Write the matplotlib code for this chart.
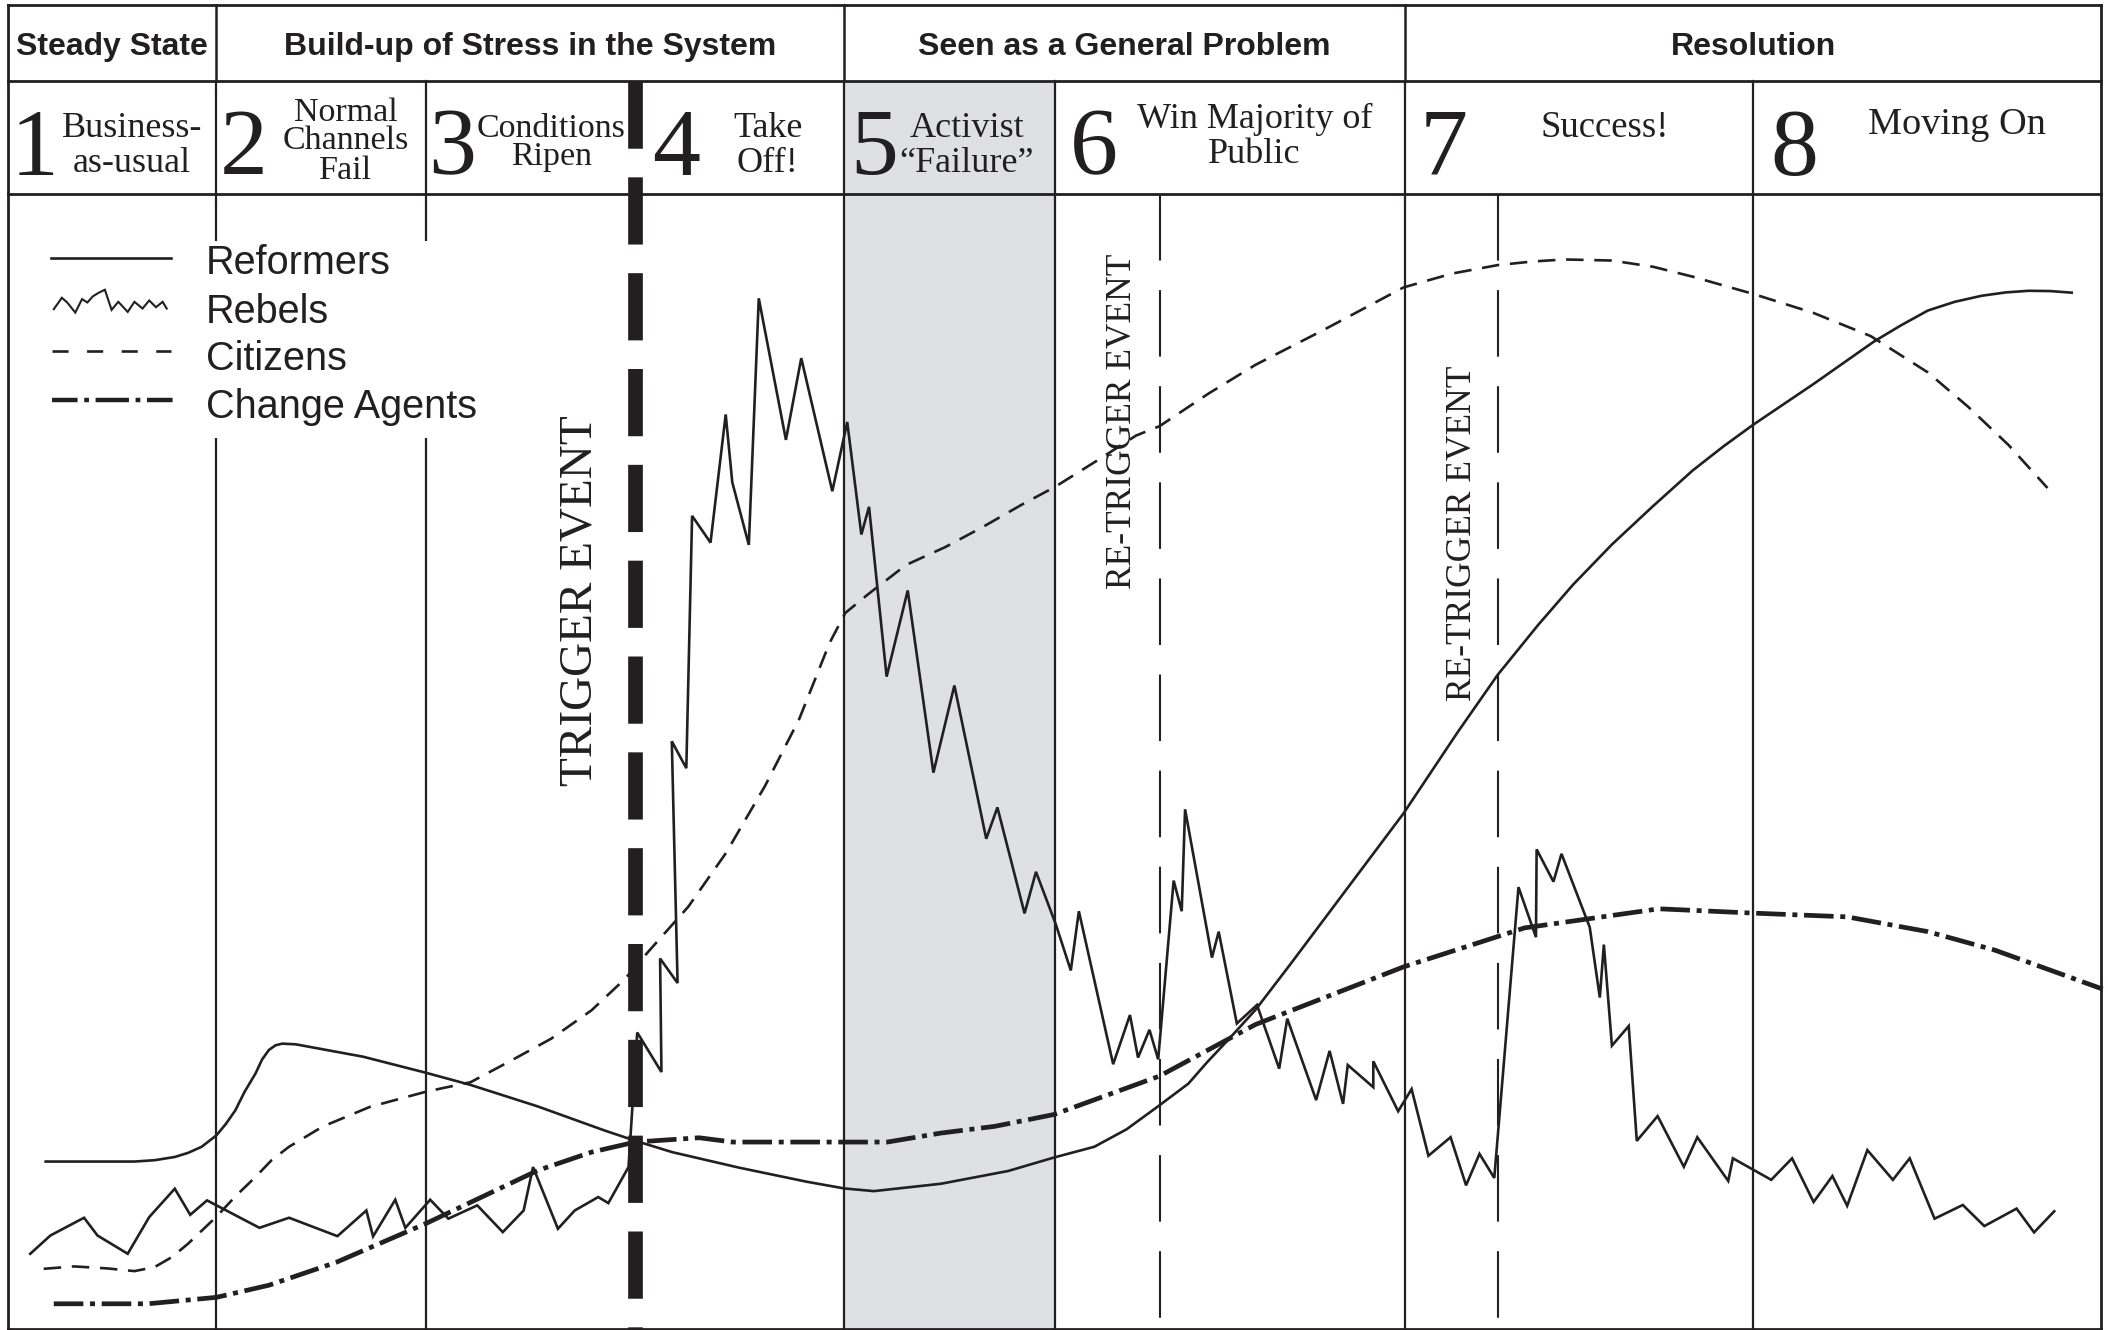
import matplotlib
matplotlib.use('Agg')
import matplotlib.pyplot as plt
from matplotlib.patches import Rectangle

# Stages of a social movement (Moyer style "MAP" chart)
INK = '#231f20'
GREY = '#dfe0e2'
SERIF = 'Liberation Serif'
SANS = 'Liberation Sans'

plt.rcParams['lines.scale_dashes'] = False

# ---- header --------------------------------------------------------------
groups = ['Steady State', 'Build-up of Stress in the System',
          'Seen as a General Problem', 'Resolution']
group_edges = [6, 161, 628, 1045, 1563]

stage_nums = ['1', '2', '3', '4', '5', '6', '7', '8']
stage_labels = [['Business-', 'as-usual'],
                ['Normal', 'Channels', 'Fail'],
                ['Conditions', 'Ripen'],
                ['Take', 'Off!'],
                ['Activist', '\u201cFailure\u201d'],
                ['Win Majority of', 'Public'],
                ['Success!'],
                ['Moving On']]
stage_edges = [6, 161, 317, 472, 628, 785, 1045, 1304, 1563]

# layout of header labels (x of digit, x of label, baselines, size)
num_x = [26, 181, 336, 503, 650, 814, 1074, 1335]
lab_x = [98, 257, 410, 571, 719, 933, 1194, 1456]
lab_base = [[102, 128], [90, 111, 133], [102, 123], [102, 128],
            [102, 128], [95, 121], [102], [100]]
lab_size = [26, 24.5, 24.5, 26, 26, 26, 26.5, 27.5]

# ---- series (x = time, y = level, picture scale, 0 at top) --------------
ref_x = [34, 100, 115, 130, 140, 150, 161, 168, 175, 182, 190, 195, 200, 205,
         210, 220, 270, 317, 350, 400, 450, 473, 500, 550, 600, 628, 650, 700,
         750, 784, 814, 838, 862, 884, 898, 914, 934, 960, 984, 1014, 1044,
         1084, 1114, 1144, 1170, 1199, 1229, 1259, 1282, 1304, 1349, 1394, 1414,
         1434, 1454, 1474, 1492, 1509, 1525, 1541]
ref_y = [864, 864, 863, 860.6, 857.5, 853, 844.5, 836, 826, 812, 798.6, 788,
         781, 777.5, 776.3, 776.8, 786, 798, 807, 823, 841, 848.7, 857, 868.6,
         879, 884, 886, 880.5, 871, 861, 853, 840, 822.5, 806, 790, 773, 751,
         717, 685, 645, 605, 545, 502, 465, 435, 405, 377, 350, 332, 316, 285.6,
         254, 242, 231, 224.5, 220, 217.5, 216.3, 216.5, 217.7]

reb_x = [22.5, 37.5, 62.5, 72.5, 95, 111, 130, 141.5, 154, 193, 215, 251, 272.5,
         277.5, 294, 301.5, 320, 333.5, 355, 374, 389.5, 396.5, 415, 427.5, 445,
         452.5, 467.5, 474, 492, 491, 504, 499.7, 510.5, 514.8, 528.5, 539.8,
         544.7, 557, 564.4, 584.6, 596, 619.1, 630.2, 640.7, 646.4, 659.5, 675.2,
         694.3, 709.9, 733.6, 741.9, 762.1, 770.6, 785.4, 796.5, 802.5, 828,
         840.5, 846.5, 855, 861.5, 873, 879, 881.5, 901.5, 906.5, 920, 935,
         951.5, 957.5, 979, 989, 999, 1002.5, 1021.5, 1021.5, 1040, 1050, 1062.5,
         1079, 1090.5, 1100.5, 1111.5, 1129.5, 1142.5, 1143, 1155.5, 1161.5,
         1182.5, 1190, 1193, 1199, 1211.5, 1217.5, 1233, 1252.5, 1262.5, 1285.5,
         1289, 1317.5, 1333, 1349, 1363, 1374, 1389, 1408, 1420.5, 1439, 1460,
         1476, 1500, 1513, 1528]
reb_y = [932.6, 919, 905.8, 919, 932.6, 905.3, 884.2, 903.6, 892.9, 913.3,
         905.8, 919.5, 900.4, 919.7, 892.4, 913.3, 892.4, 906.5, 896.6, 916.5,
         900.4, 868.1, 914, 900.4, 890.4, 894.9, 868.1, 768, 797.4, 713, 731.2,
         551.4, 571.4, 383.7, 403.6, 308.3, 358.8, 405.3, 221.9, 327.2, 266.4,
         365.4, 313.9, 397.6, 377, 503.3, 439.2, 574.7, 509.9, 623.9, 600.6,
         679.4, 648.5, 687.7, 721.9, 677.8, 791.6, 755, 786.7, 766, 788, 655,
         677.8, 602, 712.3, 693, 761.3, 747.5, 794.9, 757.7, 818.3, 781.7, 821.1,
         792.2, 808.7, 789.4, 826.6, 810.1, 859.7, 845.9, 881.7, 858.3, 876.2,
         659.9, 697.1, 631.8, 655.8, 635.1, 689.7, 742, 702.6, 777.8, 763.2,
         848.6, 830.2, 867.9, 845.9, 878.4, 861.6, 877.6, 861.6, 894.1, 874.8,
         896.9, 855.5, 877.6, 861.6, 906.5, 896.3, 912, 899, 916.7, 901]

cit_x = [32.5, 55, 80, 100, 115, 128, 140, 161, 175, 190, 202, 215, 240, 275,
         317, 350, 380, 410, 440, 465, 483, 512, 540, 569, 594.5, 617, 628.7,
         646, 674, 703, 731, 760, 785, 817, 845, 862.5, 899, 934, 984, 1044,
         1080, 1114, 1140, 1164, 1199, 1230, 1259, 1304, 1349, 1391.5, 1434,
         1464, 1494, 1523]
cit_y = [943.8, 942, 943.5, 945.5, 942.5, 935, 925, 905, 890, 875.5, 863, 853,
         838, 823.4, 812, 805, 789, 772.6, 751.5, 728, 707, 674.4, 634.5, 584.7,
         534.8, 478.4, 456, 441.8, 420.2, 407, 392, 375.4, 362, 342, 324, 317,
         292.7, 271.3, 245.7, 213.8, 203.5, 197.2, 194.5, 193, 193.8, 198.5,
         205.8, 218.6, 232.8, 250, 277, 302.6, 331, 363]

agt_x = [40, 110, 161, 200, 250, 280, 317, 360, 400, 440, 472.5, 520, 545, 660,
         700, 740, 784, 862.5, 934, 1044, 1134, 1234, 1304, 1374, 1434, 1484,
         1564]
agt_y = [969.8, 969.8, 965, 956, 939, 926, 910, 889.6, 870.6, 857, 849.5, 846.3,
         849.5, 849.5, 842.8, 837.8, 829, 800.4, 762, 719.2, 690.2, 676, 679.2,
         682, 693, 706.8, 735.7]

trigger_x = 472.5
retrigger_x = [862.5, 1114.5]

legend_names = ['Reformers', 'Rebels', 'Citizens', 'Change Agents']
# little zig-zag glyph used for the Rebels entry
zig_x = [40, 46, 50, 56, 61, 65, 69, 73, 78, 83, 88, 95, 100, 106, 111, 116, 121, 124]
zig_y = [230, 221.5, 225, 232.5, 222.5, 225, 220.5, 218, 215.5, 230.5, 224.5,
         232, 224.5, 229.5, 223.5, 228.5, 224.5, 229.5]

# ---- figure ----------------------------------------------------------------
fig = plt.figure(figsize=(21.08, 13.30), dpi=100)
ax = fig.add_axes([0, 0, 1, 1])
ax.set_xlim(0, 1568)
ax.set_ylim(989.3, 0)
ax.axis('off')

TOP, ROW1, ROW2, BOT = 3.5, 60, 144, 988.5

# grey "activist failure" column
ax.add_patch(Rectangle((stage_edges[4], ROW1), stage_edges[5] - stage_edges[4],
                       BOT - ROW1, facecolor=GREY, edgecolor='none', zorder=0))

# frame
for yy in [TOP, ROW1, ROW2, BOT]:
    ax.plot([group_edges[0], group_edges[-1]], [yy, yy], color=INK, lw=2, zorder=2,
            solid_capstyle='projecting')
for xx in [group_edges[0], group_edges[-1]]:
    ax.plot([xx, xx], [TOP, BOT], color=INK, lw=2, zorder=2, solid_capstyle='projecting')
for xx in group_edges[1:-1]:
    ax.plot([xx, xx], [TOP, ROW1], color=INK, lw=1.8, zorder=2)
for i, xx in enumerate(stage_edges[1:-1]):
    if i == 2:
        continue  # that one is the trigger line
    ax.plot([xx, xx], [ROW1, BOT], color=INK, lw=1.6, zorder=2)

# group titles
for i, g in enumerate(groups):
    ax.text((group_edges[i] + group_edges[i + 1]) / 2, 41, g, ha='center',
            va='baseline', fontsize=23, fontweight='bold', family=SANS, color=INK)

# stage numbers and names
for i, n in enumerate(stage_nums):
    ax.text(num_x[i], 130, n, ha='center', va='baseline', fontsize=69,
            family=SERIF, color=INK)
    for line, yb in zip(stage_labels[i], lab_base[i]):
        ax.text(lab_x[i], yb, line, ha='center', va='baseline',
                fontsize=lab_size[i], family=SERIF, color=INK)

# trigger and re-trigger events
ax.plot([trigger_x, trigger_x], [60.5, BOT], color=INK, lw=10.6,
        linestyle=(0, (48.4, 20.6)), zorder=6)
for xx in retrigger_x:
    ax.plot([xx, xx], [ROW2, BOT], color=INK, lw=1.5,
            linestyle=(0, (47.9, 21.3)), zorder=2)
ax.text(431.5, 446.5, 'TRIGGER EVENT', rotation=90, ha='center', va='center',
        fontsize=34, family=SERIF, color=INK, zorder=5)
ax.text(835, 313.7, 'RE-TRIGGER EVENT', rotation=90, ha='center', va='center',
        fontsize=25.5, family=SERIF, color=INK, zorder=3)
ax.text(1088, 397, 'RE-TRIGGER EVENT', rotation=90, ha='center', va='center',
        fontsize=25.5, family=SERIF, color=INK, zorder=3)

# series
ax.plot(ref_x, ref_y, color=INK, lw=1.9, zorder=4)
ax.plot(reb_x, reb_y, color=INK, lw=1.9, solid_joinstyle='miter', zorder=4)
ax.plot(cit_x, cit_y, color=INK, lw=1.9, linestyle=(0, (12.6, 7.7)), zorder=4)
ax.plot(agt_x, agt_y, color=INK, lw=3.4,
        linestyle=(0, (21.3, 4.8, 3.6, 4.8)), zorder=4)

# legend (white box hides the stage dividers)
ax.add_patch(Rectangle((20, 179), 350, 147, facecolor='white', edgecolor='none',
                       zorder=3))
ax.plot([38, 127], [192.2, 192.2], color=INK, lw=1.9, zorder=4)
ax.plot(zig_x, zig_y, color=INK, lw=1.5, solid_joinstyle='miter', zorder=4)
ax.plot([39, 127], [261, 261], color=INK, lw=1.9, linestyle=(0, (11.6, 13.3)),
        zorder=4)
ax.plot([39, 129], [297.2, 297.2], color=INK, lw=3.2,
        linestyle=(0, (18.4, 4.8, 3.4, 4.8, 24, 4.8, 3.4, 4.8)), zorder=4)
for name, yb in zip(legend_names, [204, 240, 275.5, 311]):
    ax.text(153, yb, name, ha='left', va='baseline', fontsize=28.5,
            family=SANS, color=INK, zorder=4)

plt.savefig('out.png', dpi=100)
